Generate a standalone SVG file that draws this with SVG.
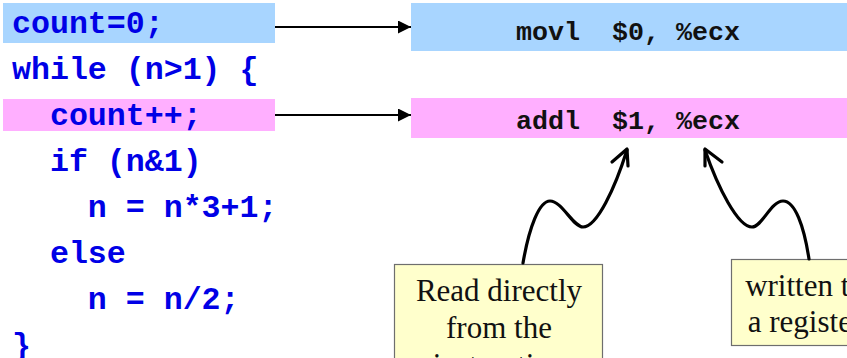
<svg xmlns="http://www.w3.org/2000/svg" width="847" height="358" viewBox="0 0 847 358">
<style>
.code{font-family:"Liberation Mono","Courier New",monospace;font-weight:bold;font-size:31.6px;fill:#0000E6;white-space:pre}
.asm{font-family:"Liberation Mono","Courier New",monospace;font-weight:bold;font-size:26.7px;fill:#111;white-space:pre}
.note{font-family:"Liberation Serif","Times New Roman",serif;font-size:31px;fill:#111}
.blue{fill:#A8D5FF}
.pink{fill:#FFAFFF}
.yel{fill:#FFFFCC;stroke:#6e6e6e;stroke-width:1.2}
.conn{stroke:#000;stroke-width:2;fill:none}
.wave{stroke:#000;stroke-width:3.2;fill:none;stroke-linecap:round;stroke-linejoin:round}
</style>
<defs>
<marker id="ah" markerWidth="13" markerHeight="13" refX="13" refY="6.5" orient="auto" markerUnits="userSpaceOnUse">
<path d="M0,0 L13,6.5 L0,13 Z" fill="#000"/>
</marker>
</defs>
<g id="src-count0"><rect class="blue" x="3" y="3" width="272" height="40"/><text class="code" x="12" y="33">count=0;</text></g>
<g id="src-while"><text class="code" x="12" y="79">while (n&gt;1) {</text></g>
<g id="src-countpp"><rect class="pink" x="3" y="99" width="272" height="32"/><text class="code" x="12" y="125">  count++;</text></g>
<g id="src-if"><text class="code" x="12" y="171">  if (n&amp;1)</text></g>
<g id="src-n3"><text class="code" x="12" y="217">    n = n*3+1;</text></g>
<g id="src-else"><text class="code" x="12" y="263">  else</text></g>
<g id="src-n2"><text class="code" x="12" y="309">    n = n/2;</text></g>
<g id="src-brace"><text class="code" x="12" y="355">}</text></g>
<g id="asm-movl"><rect class="blue" x="411" y="3" width="436" height="48"/><text class="asm" x="628" y="40" text-anchor="middle">movl  $0, %ecx</text></g>
<g id="asm-addl"><rect class="pink" x="411" y="98" width="436" height="40"/><text class="asm" x="628" y="129" text-anchor="middle">addl  $1, %ecx</text></g>
<g id="note-read"><rect class="yel" x="394.5" y="264.5" width="208" height="110"/><text class="note" x="499" y="301" text-anchor="middle">Read directly</text><text class="note" x="499" y="338" text-anchor="middle">from the</text><text class="note" x="499" y="375" text-anchor="middle">instruction</text></g>
<g id="note-written"><rect class="yel" x="731.5" y="259.5" width="150" height="86"/><text class="note" x="805" y="296" text-anchor="middle">written to</text><text class="note" x="805" y="332" text-anchor="middle">a register</text></g>
<g id="connectors">
<line class="conn" x1="275" y1="27" x2="411" y2="27" marker-end="url(#ah)"/>
<line class="conn" x1="275" y1="115" x2="411" y2="115" marker-end="url(#ah)"/>
<path class="wave" d="M523,263 C529,228 539,201 550,201 C562,201 573,227 583,227 C597,227 615,188 627,150"/>
<polyline class="wave" points="612,162 627,149 628,166"/>
<path class="wave" d="M809,259 C804,226 795,201 783,201 C771,201 762,227 752,227 C738,227 718,188 705,150"/>
<polyline class="wave" points="722,162 705,149 705,166"/>
</g>
</svg>
